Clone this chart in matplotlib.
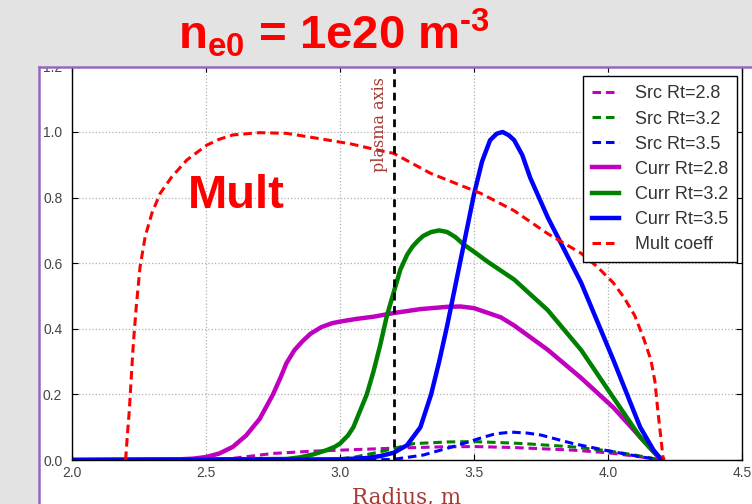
"""
Slide snapshot: source and current-drive profiles vs radius with the
multiplication coefficient, n_e0 = 1e20 m^-3.
"""

import matplotlib
matplotlib.use("Agg")
import matplotlib.pyplot as plt
from matplotlib.patches import Rectangle
from matplotlib.lines import Line2D


# -----------------------------
# Data
# -----------------------------
MULT_R = [2.20, 2.207, 2.214, 2.221, 2.229, 2.24, 2.254, 2.273, 2.298, 2.329,
          2.373, 2.429, 2.503, 2.55, 2.60, 2.70, 2.80, 2.914, 3.039, 3.14, 3.20,
          3.338, 3.525, 3.65, 3.775, 3.90, 3.96, 4.02, 4.06, 4.10, 4.135, 4.16,
          4.175, 4.186, 4.197, 4.205, 4.21]
MULT_V = [0.0, 0.08, 0.152, 0.25, 0.356, 0.47, 0.589, 0.681, 0.752, 0.813,
          0.864, 0.915, 0.960, 0.978, 0.991, 0.998, 0.996, 0.981, 0.964, 0.945,
          0.935, 0.874, 0.813, 0.76, 0.69, 0.63, 0.589, 0.54, 0.495, 0.44,
          0.366, 0.305, 0.24, 0.15, 0.07, 0.01, 0.0]

CURR28_R = [2.0, 2.4, 2.45, 2.5, 2.55, 2.6, 2.65, 2.7, 2.75, 2.78, 2.80, 2.83,
            2.86, 2.89, 2.93, 2.97, 3.0, 3.06, 3.126, 3.2, 3.3, 3.4, 3.45, 3.5,
            3.6, 3.65, 3.775, 3.9, 4.02, 4.12, 4.17, 4.2]
CURR28_V = [0.0, 0.002, 0.004, 0.009, 0.02, 0.04, 0.075, 0.125, 0.20, 0.255,
            0.295, 0.335, 0.362, 0.385, 0.405, 0.417, 0.422, 0.43, 0.437, 0.448,
            0.46, 0.467, 0.468, 0.463, 0.435, 0.41, 0.336, 0.25, 0.16, 0.07,
            0.025, 0.0]

CURR32_R = [2.0, 2.8, 2.85, 2.9, 2.95, 2.98, 3.0, 3.03, 3.05, 3.075, 3.1, 3.125,
            3.15, 3.175, 3.2, 3.225, 3.25, 3.27, 3.29, 3.31, 3.34, 3.37, 3.40,
            3.43, 3.46, 3.5, 3.55, 3.65, 3.775, 3.9, 4.02, 4.12, 4.17, 4.2]
CURR32_V = [0.0, 0.003, 0.008, 0.017, 0.03, 0.04, 0.05, 0.075, 0.10, 0.15, 0.20,
            0.27, 0.35, 0.44, 0.51, 0.58, 0.625, 0.65, 0.668, 0.683, 0.695,
            0.70, 0.695, 0.68, 0.658, 0.635, 0.605, 0.55, 0.457, 0.335, 0.19,
            0.07, 0.025, 0.0]

CURR35_R = [2.0, 3.0, 3.1, 3.15, 3.2, 3.25, 3.3, 3.34, 3.37, 3.40, 3.45, 3.50,
            3.53, 3.56, 3.585, 3.607, 3.63, 3.65, 3.68, 3.71, 3.775, 3.9, 4.02,
            4.12, 4.17, 4.2]
CURR35_V = [0.0, 0.002, 0.006, 0.012, 0.022, 0.045, 0.10, 0.20, 0.30, 0.41,
            0.61, 0.81, 0.91, 0.975, 0.995, 1.0, 0.99, 0.975, 0.93, 0.86, 0.74,
            0.54, 0.305, 0.10, 0.03, 0.0]

SRC28_R = [2.0, 2.55, 2.65, 2.75, 2.9, 3.0, 3.1, 3.2, 3.375, 3.5, 3.65, 3.87,
           4.0, 4.1, 4.2]
SRC28_V = [0.0, 0.0, 0.01, 0.02, 0.027, 0.03, 0.033, 0.036, 0.04, 0.041, 0.038,
           0.03, 0.022, 0.012, 0.0]

SRC32_R = [2.0, 2.95, 3.05, 3.15, 3.2, 3.275, 3.4, 3.5, 3.6, 3.685, 3.87, 4.0,
           4.1, 4.2]
SRC32_V = [0.0, 0.0, 0.008, 0.025, 0.035, 0.05, 0.055, 0.056, 0.053, 0.05,
           0.04, 0.028, 0.015, 0.0]

SRC35_R = [2.0, 3.1, 3.2, 3.31, 3.44, 3.525, 3.58, 3.64, 3.7, 3.75, 3.87, 4.0,
           4.12, 4.2]
SRC35_V = [0.0, 0.0, 0.002, 0.015, 0.045, 0.067, 0.08, 0.085, 0.082, 0.076,
           0.05, 0.028, 0.01, 0.0]

PLASMA_AXIS = 3.2
X_TICKS = [2.0, 2.5, 3.0, 3.5, 4.0, 4.5]
Y_TICKS = [0.0, 0.2, 0.4, 0.6, 0.8, 1.0, 1.2]

BG = "#e3e3e3"
PURPLE = "#9467bd"
BROWN = "#a33a35"
W, H = 752, 504


def px_rect(x0, y0, x1, y1):
    """Pixel box (top-left origin) -> figure fraction (left, bottom, w, h)."""
    return x0 / W, 1 - y1 / H, (x1 - x0) / W, (y1 - y0) / H


def main() -> None:
    plt.rcParams["mathtext.fontset"] = "custom"
    plt.rcParams["mathtext.rm"] = "Liberation Sans:bold"
    plt.rcParams["mathtext.it"] = "Liberation Sans:bold"
    plt.rcParams["mathtext.bf"] = "Liberation Sans:bold"

    fig = plt.figure(figsize=(W / 100, H / 100), dpi=100)
    fig.patch.set_facecolor(BG)

    # white slide box behind the plot
    x0, y0, w0, h0 = px_rect(39, 67, W + 5, H + 5)
    fig.patches.append(Rectangle((x0, y0), w0, h0, transform=fig.transFigure,
                                 facecolor="white", edgecolor="none", zorder=-1))

    ax = fig.add_axes(px_rect(72, 66.4, 742, 460))
    ax.set_xlim(2.0, 4.5)
    ax.set_ylim(0.0, 1.2)

    dash_kw = dict(linestyle="--", dashes=(2.8, 1.6), linewidth=2.2)
    ax.plot(SRC28_R, SRC28_V, color="m", label="Src Rt=2.8", **dash_kw)
    ax.plot(SRC32_R, SRC32_V, color="g", label="Src Rt=3.2", **dash_kw)
    ax.plot(SRC35_R, SRC35_V, color="b", label="Src Rt=3.5", **dash_kw)
    ax.plot(CURR28_R, CURR28_V, color="m", linewidth=3.2, label="Curr Rt=2.8")
    ax.plot(CURR32_R, CURR32_V, color="g", linewidth=3.2, label="Curr Rt=3.2")
    ax.plot(CURR35_R, CURR35_V, color="b", linewidth=3.2, label="Curr Rt=3.5")
    ax.plot(MULT_R, MULT_V, color="r", label="Mult coeff", **dash_kw)

    ax.axvline(PLASMA_AXIS, color="black", linestyle="--", dashes=(2.8, 2.0),
               linewidth=2)
    ax.text(PLASMA_AXIS - 0.052, 1.024, "plasma axis", rotation=90,
            ha="center", va="center", color=BROWN, fontsize=11.5,
            family="DejaVu Serif")
    ax.text(2.433, 0.768, "Mult", color="red", fontsize=34, fontweight="bold",
            family="Liberation Sans", ha="left", va="baseline")

    ax.set_xticks(X_TICKS)
    ax.set_yticks(Y_TICKS)
    ax.set_xticklabels([f"{v:.1f}" for v in X_TICKS])
    ax.set_yticklabels([f"{v:.1f}" for v in Y_TICKS])
    ax.tick_params(direction="in", top=True, right=True, length=4, width=0.8,
                   labelsize=10, labelcolor="#444444")
    ax.tick_params(axis="y", pad=7)
    ax.tick_params(axis="x", pad=4)
    for lab in ax.get_xticklabels() + ax.get_yticklabels():
        lab.set_family("Liberation Sans")
    ax.grid(True, color="#b0b0b0", linestyle=":", linewidth=0.9)
    for sp in ax.spines.values():
        sp.set_color("black")
        sp.set_linewidth(1.0)

    ax.set_xlabel("Radius, m", family="DejaVu Serif", fontsize=15.5,
                  color=BROWN, labelpad=5)

    leg = ax.legend(loc="upper right", bbox_to_anchor=(1 - 5 / 670, 1 - 10 / 393.6),
                    borderaxespad=0, fancybox=False, framealpha=1,
                    edgecolor="black", handlelength=1.5, handletextpad=0.85,
                    labelspacing=0.45, borderpad=0.5,
                    prop={"family": "Liberation Sans", "size": 13})
    leg.get_frame().set_linewidth(1.0)
    for txt in leg.get_texts():
        txt.set_color("#333333")

    # grey slide area above the box hides the top of the plot
    cx, cy, cw, ch = px_rect(0, -5, W + 5, 66.5)
    fig.patches.append(Rectangle((cx, cy), cw, ch, transform=fig.transFigure,
                                 facecolor=BG, edgecolor="none", zorder=5))
    fig.lines.append(Line2D([39 / W, 1.01], [1 - 67 / H, 1 - 67 / H],
                            transform=fig.transFigure, color=PURPLE,
                            linewidth=1.8, zorder=6))
    fig.lines.append(Line2D([39 / W, 39 / W], [1 - 67 / H, -0.01],
                            transform=fig.transFigure, color=PURPLE,
                            linewidth=1.8, zorder=6))

    fig.text(178 / W, 1 - 49 / H, r"n$_{e0}$ = 1e20 m$^{\text{-3}}$",
             color="red", fontsize=34, fontweight="bold",
             family="Liberation Sans", ha="left", va="baseline", zorder=7)

    fig.savefig("out.png", dpi=100, facecolor=fig.get_facecolor())


if __name__ == "__main__":
    main()
